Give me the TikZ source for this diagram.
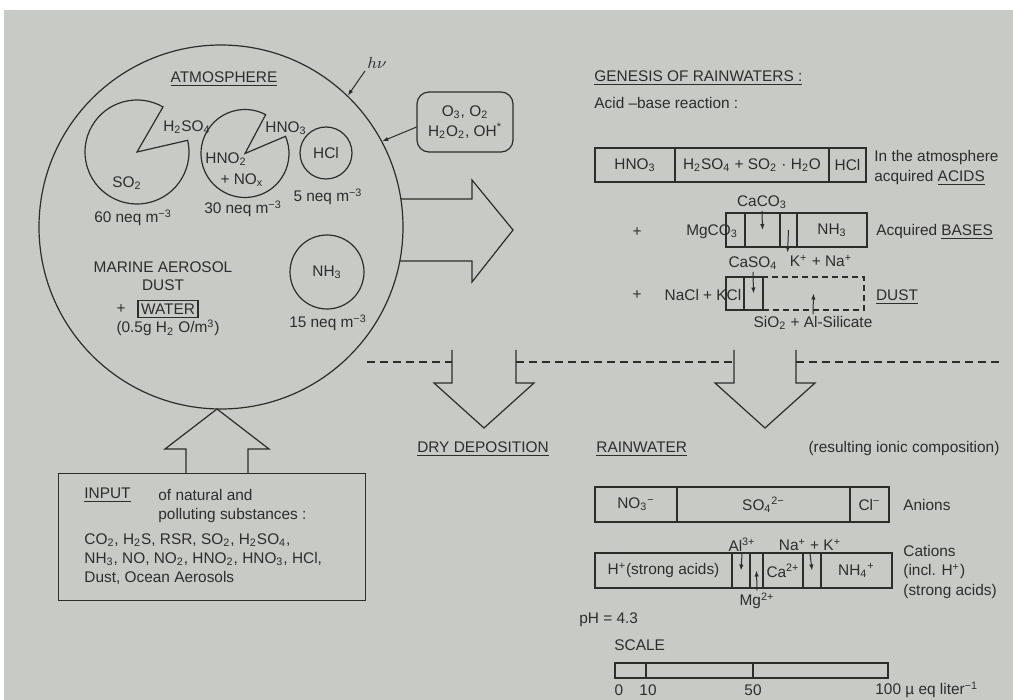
\documentclass[tikz,border=0pt]{standalone}
\usepackage{fontspec}
\setmainfont{Liberation Sans}
\usetikzlibrary{arrows.meta,positioning,calc}

\definecolor{paper}{RGB}{200,202,198}
\definecolor{ink}{RGB}{45,45,45}
\newcommand{\csub}[1]{\textsubscript{#1}}
\newcommand{\csup}[1]{\textsuperscript{#1}}

\begin{document}
\begin{tikzpicture}[
  x=0.5pt,y=-0.5pt,
  every node/.style={font=\fontsize{7.7}{9.7}\selectfont,text=ink,inner sep=1pt},
  line/.style={draw=ink,line width=0.6pt},
  cell/.style={draw=ink,line width=0.6pt,inner sep=0pt,outer sep=0pt},
  sphere/.style={circle,draw=ink,line width=0.6pt,inner sep=0pt},
  tip/.style={-{Latex[length=3pt,width=2.2pt]},draw=ink,line width=0.5pt},
  blockarrow/.style={draw=ink,line width=0.6pt,line join=miter},
  sep/.style={draw=ink,line width=0.6pt,dash pattern=on 4pt off 2.5pt}
]
% paper
\fill[white] (0,0) rectangle (1013,700);
\fill[paper] (4,10) rectangle (1013,700);
\useasboundingbox (0,0) rectangle (1013,700);

% atmosphere
\node[sphere,minimum size=182pt] (atmo) at (221,227) {};
\node (atm) at (224,79) {\underline{ATMOSPHERE}};
\coordinate (so2c) at (137,152);
\draw[line] (so2c) -- ++(60:26pt) arc[start angle=60,end angle=373,radius=26pt] -- cycle;
\coordinate (no2c) at (245,153.5);
\draw[line] (no2c) -- ++(62:22pt) arc[start angle=62,end angle=383,radius=22pt] -- cycle;
\node (h2so4) at (187,127) {H\csub{2}SO\csub{4}};
\node (hno3) at (286,128) {HNO\csub{3}};
\node (so2) at (127,183) {SO\csub{2}};
\node (so2v) at (133,218) {60 neq m\csup{−3}};
\node (hno2) at (226,159) {HNO\csub{2}};
\node (nox) at (242,180) {+ NO\csub{x}};
\node (no2v) at (243,209) {30 neq m\csup{−3}};
\node[sphere,minimum size=26pt] (hcl) at (326,153) {HCl};
\node (hclv) at (328,197) {5 neq m\csup{−3}};
\node[sphere,minimum size=37pt] (nh3) at (327,272) {NH\csub{3}};
\node (nh3v) at (328,323) {15 neq m\csup{−3}};
\node (marine) at (163,267) {MARINE AEROSOL};
\node (dust) at (163,285) {DUST};
\node (plus) at (121,309) {+};
\node[draw=ink,line width=0.6pt,inner sep=1.5pt] (water) at (168,309) {WATER};
\node (wvol) at (168,328) {(0.5g H\csub{2} O/m\csup{3})};

% light and oxidants
\node (hv) at (377,63) {$h\nu$};
\draw[tip] (hv.south west) -- (atmo.46);
\node[draw=ink,line width=0.6pt,rounded corners=6pt,minimum width=48pt,minimum height=30pt,align=center] (ox) at (465,122) {O\csub{3}, O\csub{2}\\H\csub{2}O\csub{2}, OH\csup{*}};
\draw[tip] (ox.186) -- (atmo.28);

% big arrow to the right
\draw[blockarrow] (401,199) -- (472,199) -- (472,180) -- (513,230) -- (472,282) -- (472,261) -- (400,261);

% input
\node[draw=ink,line width=0.6pt,minimum width=153.5pt,minimum height=63.5pt,inner sep=0pt,anchor=north west] (input) at (58,473) {};
\draw[blockarrow] (186,473) -- (186,449) -- (165,449) -- (217,409) -- (269,449) -- (248,449) -- (248,473);
\node[anchor=west] (inp) at (82,495) {\underline{INPUT}};
\node[anchor=north west,align=left] (inptxt) at (156,487) {of natural and\\polluting substances :};
\node[anchor=north west,align=left] (inplist) at (82,531) {CO\csub{2}, H\csub{2}S, RSR, SO\csub{2}, H\csub{2}SO\csub{4},\\NH\csub{3}, NO, NO\csub{2}, HNO\csub{2}, HNO\csub{3}, HCl,\\Dust, Ocean Aerosols};

% genesis of rainwaters
\node[anchor=west] (gen) at (592,78) {\underline{GENESIS OF RAINWATERS :}};
\node[anchor=west] (acid) at (592,103) {Acid --base reaction :};
\node[cell,minimum width=40pt,minimum height=17pt,anchor=west] (a1) at (595,165) {HNO\csub{3}};
\node[cell,minimum width=77pt,minimum height=17pt,right=0pt of a1] (a2) {H\csub{2}SO\csub{4} + SO\csub{2} · H\csub{2}O};
\node[cell,minimum width=18.5pt,minimum height=17pt,right=0pt of a2] (a3) {HCl};
\node[anchor=west,align=left] (acids) at (872,168) {In the atmosphere\\acquired \underline{ACIDS}};

\node[cell,minimum width=9.5pt,minimum height=17pt,anchor=west] (b1) at (726,230) {};
\node[cell,minimum width=17.5pt,minimum height=17pt,right=0pt of b1] (b2) {};
\node[cell,minimum width=8.5pt,minimum height=17pt,right=0pt of b2] (b3) {};
\node[cell,minimum width=35pt,minimum height=17pt,right=0pt of b3] (b4) {NH\csub{3}};
\node (plusb) at (637,232) {+};
\node (mgco3) at (712,232) {MgCO\csub{3}};
\node (caco3) at (762,202) {CaCO\csub{3}};
\draw[tip] (caco3.south) -- (b2.center);
\node (kna) at (821,261) {K\csup{+} + Na\csup{+}};
\draw[tip] (b3.center) -- (kna.north west);
\node[anchor=west] (bases) at (874,232) {Acquired \underline{BASES}};

\node[cell,minimum width=9pt,minimum height=16.5pt,anchor=west] (d1) at (726,293.5) {};
\node[cell,minimum width=9.5pt,minimum height=16.5pt,right=0pt of d1] (d2) {};
\node[cell,minimum width=50.5pt,minimum height=16.5pt,dash pattern=on 3pt off 2pt,right=0pt of d2] (d3) {};
\node (plusd) at (637,295) {+};
\node (nacl) at (703,295) {NaCl + KCl};
\node (caso4) at (753,263) {CaSO\csub{4}};
\draw[tip] (caso4.south) -- (d2.center);
\node (sio2) at (813,323) {SiO\csub{2} + Al-Silicate};
\draw[tip] (sio2.north) -- (d3.center);
\node (dustr) at (897,297) {\underline{DUST}};

% separation and deposition arrows
\draw[sep] (367,362) -- (452,362);
\draw[sep] (516,362) -- (734,362);
\draw[sep] (796,362) -- (1000,362);
\draw[blockarrow] (452,350) -- (452,383) -- (434,383) -- (484,428) -- (534,383) -- (516,383) -- (516,350);
\draw[blockarrow] (734,350) -- (734,383) -- (715,383) -- (765,428) -- (815,383) -- (796,383) -- (796,350);
\node (dry) at (483,449) {\underline{DRY DEPOSITION}};

% rainwater
\node[anchor=west] (rain) at (594,449) {\underline{RAINWATER}};
\node (result) at (904,449) {(resulting ionic composition)};
\node[cell,minimum width=41pt,minimum height=17.5pt,anchor=west] (n1) at (595,504.5) {NO\csub{3}\csup{−}};
\node[cell,minimum width=86.5pt,minimum height=17.5pt,right=0pt of n1] (n2) {SO\csub{4}\csup{2−}};
\node[cell,minimum width=19.5pt,minimum height=17.5pt,right=0pt of n2] (n3) {Cl\csup{−}};
\node[anchor=west] (anions) at (901,505) {Anions};

\node[cell,minimum width=68.5pt,minimum height=17.5pt,anchor=west] (c1) at (595,570.5) {H\csup{+}(strong acids)};
\node[cell,minimum width=9pt,minimum height=17.5pt,right=0pt of c1] (c2) {};
\node[cell,minimum width=6.5pt,minimum height=17.5pt,right=0pt of c2] (c3) {};
\node[cell,minimum width=20pt,minimum height=17.5pt,right=0pt of c3] (c4) {Ca\csup{2+}};
\node[cell,minimum width=9pt,minimum height=17.5pt,right=0pt of c4] (c5) {};
\node[cell,minimum width=35.5pt,minimum height=17.5pt,right=0pt of c5] (c6) {NH\csub{4}\csup{+}};
\node (al) at (742,545) {Al\csup{3+}};
\draw[tip] (al.south) -- (c2.center);
\node (mg) at (757,601) {Mg\csup{2+}};
\draw[tip] (mg.north) -- (c3.center);
\node (nak) at (810,545) {Na\csup{+} + K\csup{+}};
\draw[tip] (nak.south) -- (c5.center);
\node[anchor=west,align=left] (cations) at (901,572) {Cations\\(incl. H\csup{+})\\(strong acids)};

\node[anchor=west] (ph) at (577,620) {pH = 4.3};

% scale
\node[anchor=west] (scale) at (612,645) {SCALE};
\node[cell,minimum width=15.5pt,minimum height=7.5pt,anchor=west] (s1) at (615,670.5) {};
\node[cell,minimum width=53.5pt,minimum height=7.5pt,right=0pt of s1] (s2) {};
\node[cell,minimum width=67.5pt,minimum height=7.5pt,right=0pt of s2] (s3) {};
\node (t0) at (619,690) {0};
\node (t10) at (648,690) {10};
\node (t50) at (753,690) {50};
\node[anchor=west,inner sep=0pt] (t100) at (875,690) {100 µ eq liter\csup{−1}};
\end{tikzpicture}
\end{document}
